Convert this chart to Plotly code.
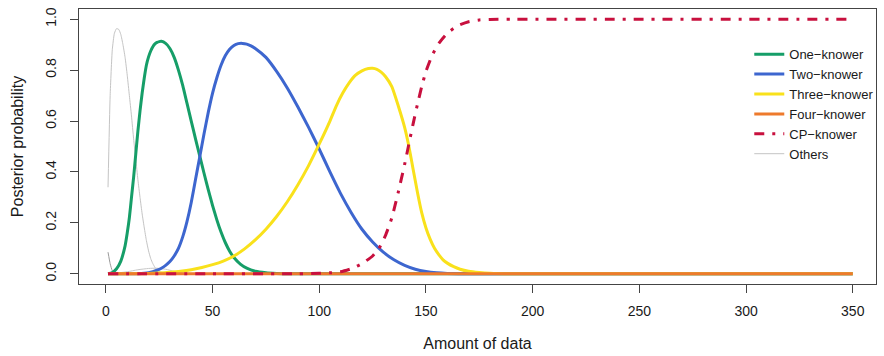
import plotly.graph_objects as go

# ---------------- data ----------------
one_x = [1, 3, 5, 7, 9, 10, 11, 12, 13, 14, 15, 16, 17, 18, 19, 20, 21, 22, 23, 24, 25,
         26, 28, 30, 32, 34, 36, 38, 40, 42, 44, 46, 48, 50, 52, 54, 56, 58, 60, 63, 66,
         70, 75, 80, 85, 100, 150, 200, 250, 300, 350]
one_y = [0.0, 0.005, 0.02, 0.05, 0.11, 0.16, 0.22, 0.30, 0.38, 0.47, 0.56, 0.64, 0.71,
         0.77, 0.82, 0.852, 0.875, 0.892, 0.903, 0.909, 0.912, 0.913, 0.905, 0.885, 0.85,
         0.80, 0.74, 0.67, 0.60, 0.53, 0.462, 0.395, 0.33, 0.268, 0.212, 0.163, 0.122,
         0.089, 0.064, 0.038, 0.022, 0.01, 0.004, 0.0015, 0.0, 0.0, 0.0, 0.0, 0.0, 0.0, 0.0]

two_x = [1, 10, 15, 18, 20, 22, 24, 26, 28, 30, 32, 34, 36, 38, 40, 42, 44, 46, 48, 50,
         52, 54, 56, 58, 60, 62, 64, 66, 68, 70, 75, 80, 85, 90, 95, 100, 105, 110, 115,
         120, 125, 130, 135, 140, 145, 150, 155, 160, 170, 200, 250, 300, 350]
two_y = [0.0, 0.0, 0.0005, 0.002, 0.004, 0.008, 0.014, 0.022, 0.033, 0.048, 0.07, 0.10,
         0.145, 0.205, 0.28, 0.37, 0.46, 0.55, 0.635, 0.71, 0.77, 0.82, 0.857, 0.882,
         0.897, 0.904, 0.905, 0.902, 0.895, 0.885, 0.85, 0.795, 0.73, 0.655, 0.575, 0.49,
         0.40, 0.315, 0.24, 0.175, 0.125, 0.085, 0.055, 0.033, 0.018, 0.009, 0.004,
         0.0015, 0.0, 0.0, 0.0, 0.0, 0.0]

three_x = [1, 20, 25, 30, 35, 40, 45, 50, 55, 60, 65, 70, 75, 80, 85, 90, 95, 100, 105,
           108, 111, 114, 117, 120, 123, 125, 127, 129, 131, 134, 137, 140, 142, 144,
           146, 148, 150, 152, 154, 156, 158, 160, 163, 166, 170, 175, 180, 190, 200,
           250, 300, 350]
three_y = [0.0, 0.001, 0.003, 0.006, 0.01, 0.016, 0.025, 0.036, 0.05, 0.07, 0.098, 0.133,
           0.175, 0.225, 0.283, 0.35, 0.425, 0.51, 0.60, 0.66, 0.71, 0.75, 0.78, 0.797,
           0.806, 0.807, 0.803, 0.792, 0.775, 0.735, 0.66, 0.575, 0.50, 0.41, 0.32, 0.24,
           0.18, 0.135, 0.10, 0.075, 0.055, 0.042, 0.028, 0.018, 0.01, 0.005, 0.002,
           0.0, 0.0, 0.0, 0.0, 0.0]

four_x = [1, 50, 100, 150, 200, 250, 300, 350]
four_y = [0.0, 0.0, 0.0, 0.0, 0.0, 0.0, 0.0, 0.0]

cp_x = [1, 50, 90, 100, 105, 110, 115, 120, 125, 128, 131, 134, 137, 140, 142, 144, 146,
        148, 150, 153, 156, 160, 165, 170, 175, 180, 190, 250, 300, 349]
cp_y = [0.0, 0.0, 0.0, 0.002, 0.004, 0.008, 0.02, 0.04, 0.07, 0.10, 0.15, 0.22, 0.32,
        0.43, 0.51, 0.59, 0.665, 0.735, 0.795, 0.86, 0.905, 0.945, 0.975, 0.99, 0.997,
        0.999, 1.0, 1.0, 1.0, 1.0]

oth1_x = [1, 2, 3, 4, 5, 6, 7, 8, 9, 10, 11, 12, 13, 14, 15, 16, 17, 18, 19, 20, 21, 22,
          23, 24, 26, 28, 30, 40]
oth1_y = [0.34, 0.70, 0.88, 0.945, 0.963, 0.96, 0.94, 0.90, 0.85, 0.78, 0.70, 0.62, 0.53,
          0.45, 0.37, 0.30, 0.235, 0.18, 0.13, 0.09, 0.06, 0.04, 0.025, 0.015, 0.006,
          0.002, 0.0, 0.0]
oth2_x = [1, 5, 10, 15, 20, 24, 28, 32, 36, 40, 45]
oth2_y = [0.0, 0.003, 0.008, 0.016, 0.021, 0.022, 0.018, 0.01, 0.004, 0.001, 0.0]
oth3_x = [1, 2, 3, 4, 5]
oth3_y = [0.085, 0.04, 0.012, 0.003, 0.0]

x_ticks = [0, 50, 100, 150, 200, 250, 300, 350]
y_ticks = [0.0, 0.2, 0.4, 0.6, 0.8, 1.0]
y_tick_labels = ["0.0", "0.2", "0.4", "0.6", "0.8", "1.0"]

names = ["One\u2212knower", "Two\u2212knower", "Three\u2212knower", "Four\u2212knower",
         "CP\u2212knower", "Others"]
colors = ["#169e68", "#3d66cf", "#f9e11b", "#ee7a2c", "#c8103e", "#c4c4c4"]

# ---------------- figure ----------------
fig = go.Figure()
FONT = "Liberation Sans, Arial, Helvetica, sans-serif"

for i, (xs, ys, col) in enumerate([(oth1_x, oth1_y, colors[5]),
                                   (oth2_x, oth2_y, "#c8c8c8"),
                                   (oth3_x, oth3_y, "#9a9a9a")]):
    fig.add_trace(go.Scatter(x=xs, y=ys, mode="lines", name=names[5],
                             line=dict(color=col, width=1, shape="spline", smoothing=0.5),
                             legendgroup="others", showlegend=(i == 0), legendrank=6))

series = [(one_x, one_y), (two_x, two_y), (three_x, three_y), (four_x, four_y)]
for k, (xs, ys) in enumerate(series):
    fig.add_trace(go.Scatter(x=xs, y=ys, mode="lines", name=names[k],
                             line=dict(color=colors[k], width=3, shape="spline", smoothing=0.5),
                             legendrank=k + 1))

fig.add_trace(go.Scatter(x=cp_x, y=cp_y, mode="lines", name=names[4],
                         line=dict(color=colors[4], width=3, dash="10px,8px,3px,8px",
                                   shape="spline", smoothing=0.5),
                         legendrank=5))

fig.update_layout(
    width=884, height=356,
    margin=dict(l=79, r=5, t=9, b=72),
    paper_bgcolor="white", plot_bgcolor="white",
    font=dict(family=FONT, size=14, color="#1a1a1a"),
    showlegend=True,
    legend=dict(x=0.841, y=0.89, xanchor="left", yanchor="top",
                bgcolor="rgba(0,0,0,0)", borderwidth=0,
                font=dict(size=13, family=FONT, color="#1a1a1a"),
                traceorder="normal"),
    xaxis=dict(range=[-12.6, 360.9], tickvals=x_ticks, ticks="outside", ticklen=8,
               tickcolor="#444", tickwidth=1, showgrid=False, zeroline=False,
               showline=True, linecolor="#444", linewidth=1, mirror=True,
               ticklabelstandoff=6, tickfont=dict(size=14),
               title=dict(text="Amount of data", font=dict(size=16), standoff=20)),
    yaxis=dict(range=[-0.04, 1.04], tickvals=y_ticks, ticktext=y_tick_labels,
               ticks="outside", ticklen=8, tickcolor="#444", tickwidth=1,
               showgrid=False, zeroline=False, showline=True, linecolor="#444",
               linewidth=1, mirror=True, tickangle=-90, ticklabelstandoff=8,
               tickfont=dict(size=14),
               title=dict(text="Posterior probability", font=dict(size=16), standoff=15)),
)

fig.write_html("out.html")
